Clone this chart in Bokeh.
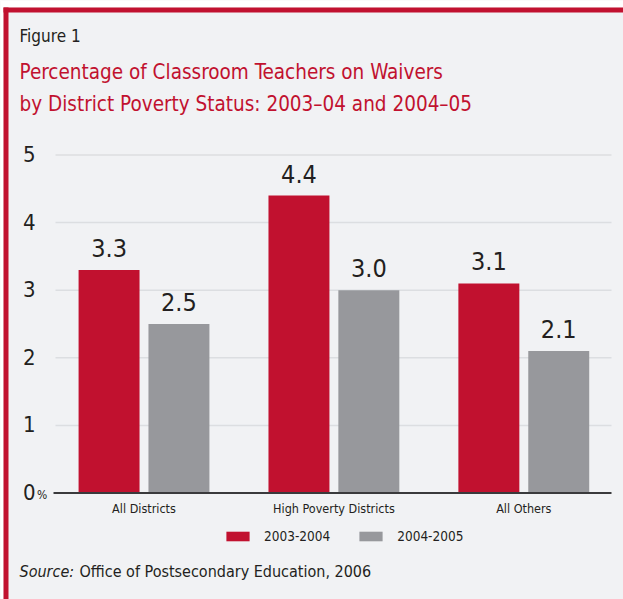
from bokeh.plotting import figure
from bokeh.models import (Range1d, Label, BoxAnnotation, Legend, LegendItem,
                          ColumnDataSource)
from bokeh.core.properties import value
from bokeh.embed import file_html
from bokeh.resources import INLINE

# ---- data ----
categories = ["All Districts", "High Poverty Districts", "All Others"]
series_names = ["2003-2004", "2004-2005"]
values_2003_04 = [3.3, 4.4, 3.1]
values_2004_05 = [2.5, 3.0, 2.1]
labels_2003_04 = ["3.3", "4.4", "3.1"]
labels_2004_05 = ["2.5", "3.0", "2.1"]
y_ticks = [0, 1, 2, 3, 4, 5]
y_tick_labels = ["0", "1", "2", "3", "4", "5"]

# ---- style / layout ----
FONT = "DejaVu Sans Condensed"
RED = "#c1112f"
GRAY = "#97989c"
BG = "#f1f2f4"
INK = "#231f20"
BASE_SHIFT = 0.42          # empirical: alphabetic baseline renders this many em low

W, H = 623, 599
X0, SX = 143.5, 189.9      # canvas x of first category centre, px per category
Y0, SY = 492.5, 67.6       # canvas y of value 0, px per unit
OFF, BW = 0.184, 0.321     # dodge and bar width, in category units


def dx(cx):
    return (cx - X0) / SX


def sx(cx):
    return cx


def sy(cy):
    return H - cy


p = figure(x_range=Range1d(dx(0), dx(W)), y_range=Range1d(-(H - Y0) / SY, Y0 / SY),
           width=W, height=H, output_backend="svg", toolbar_location=None,
           x_axis_location=None, y_axis_location=None,
           min_border=0, min_border_left=0, min_border_right=0,
           min_border_top=0, min_border_bottom=0)
p.background_fill_color = BG
p.border_fill_color = BG
p.outline_line_color = None
p.grid.visible = False

idx = list(range(len(categories)))
src1 = ColumnDataSource(dict(x=[i - OFF for i in idx], val=values_2003_04, lab=labels_2003_04))
src2 = ColumnDataSource(dict(x=[i + OFF for i in idx], val=values_2004_05, lab=labels_2004_05))

# gridlines
grid_src = ColumnDataSource(dict(y=y_ticks[1:]))
p.segment(x0=dx(55), x1=dx(611), y0="y", y1="y", source=grid_src,
          line_color="#dcdee1", line_width=1.5)

r1 = p.vbar(x="x", top="val", width=BW, source=src1, fill_color=RED, line_color=None)
r2 = p.vbar(x="x", top="val", width=BW, source=src2, fill_color=GRAY, line_color=None)

# axis line at zero
p.segment(x0=[dx(53)], x1=[dx(611)], y0=[y_ticks[0]], y1=[y_ticks[0]],
          line_color="#3a3a3c", line_width=2)

# value labels
VL_SIZE = 25
for src in (src1, src2):
    p.text(x="x", y="val", text="lab", source=src,
           text_align="center", text_baseline="alphabetic",
           y_offset=-(11.5 + BASE_SHIFT * VL_SIZE),
           text_font=value(FONT), text_font_size=f"{VL_SIZE}px", text_color=INK)

# y tick labels
tick_src = ColumnDataSource(dict(y=y_ticks, t=y_tick_labels))
p.text(x=dx(35), y="y", text="t", source=tick_src, text_align="right",
       text_baseline="middle", y_offset=-1, text_font=value(FONT),
       text_font_size="22px", text_color=INK)

# category labels
cat_src = ColumnDataSource(dict(x=idx, y=[0] * len(idx), t=categories))
p.text(x="x", y="y", text="t", source=cat_src, text_align="center",
       text_baseline="top", y_offset=8, text_font=value(FONT),
       text_font_size="12.5px", text_color=INK)

# legend
legend = Legend(items=[LegendItem(label=series_names[0], renderers=[r1]),
                       LegendItem(label=series_names[1], renderers=[r2])],
                location=(sx(223), sy(544)), orientation="horizontal",
                glyph_width=29, glyph_height=12, label_standoff=12, spacing=26,
                padding=0, margin=0, background_fill_alpha=0, border_line_color=None,
                label_text_font=FONT, label_text_font_size="13.5px", label_text_color=INK)
p.add_layout(legend)

# frame decoration (white margin + red rule on top and left)
for l, r, t, b, c in ((0, W, 0, 7, "white"), (0, 3, 0, H, "white"),
                      (3, W, 7, 12, RED), (3, 8, 7, H, RED)):
    p.add_layout(BoxAnnotation(left=sx(l), right=sx(r), top=sy(t), bottom=sy(b),
                               left_units="screen", right_units="screen",
                               top_units="screen", bottom_units="screen",
                               fill_color=c, fill_alpha=1, line_color=None))


def add_label(text, cx, baseline, size, color=INK, style="normal"):
    p.add_layout(Label(x=sx(cx), y=sy(baseline - BASE_SHIFT * size),
                       x_units="screen", y_units="screen",
                       text=text, text_font=FONT, text_font_size=f"{size}px",
                       text_color=color, text_font_style=style,
                       text_baseline="alphabetic", text_align="left"))


add_label("Figure 1", 19, 43, 17)
add_label("Percentage of Classroom Teachers on Waivers", 19, 80, 20.5, RED)
add_label("by District Poverty Status: 2003\u201304 and 2004\u201305", 19, 112, 20.5, RED)
add_label("Source:", 19, 578, 16, style="italic")
add_label("Office of Postsecondary Education, 2006", 79, 578, 16)
add_label("%", 36.5, 500, 12)

open("out.html", "w").write(file_html(p, INLINE))
